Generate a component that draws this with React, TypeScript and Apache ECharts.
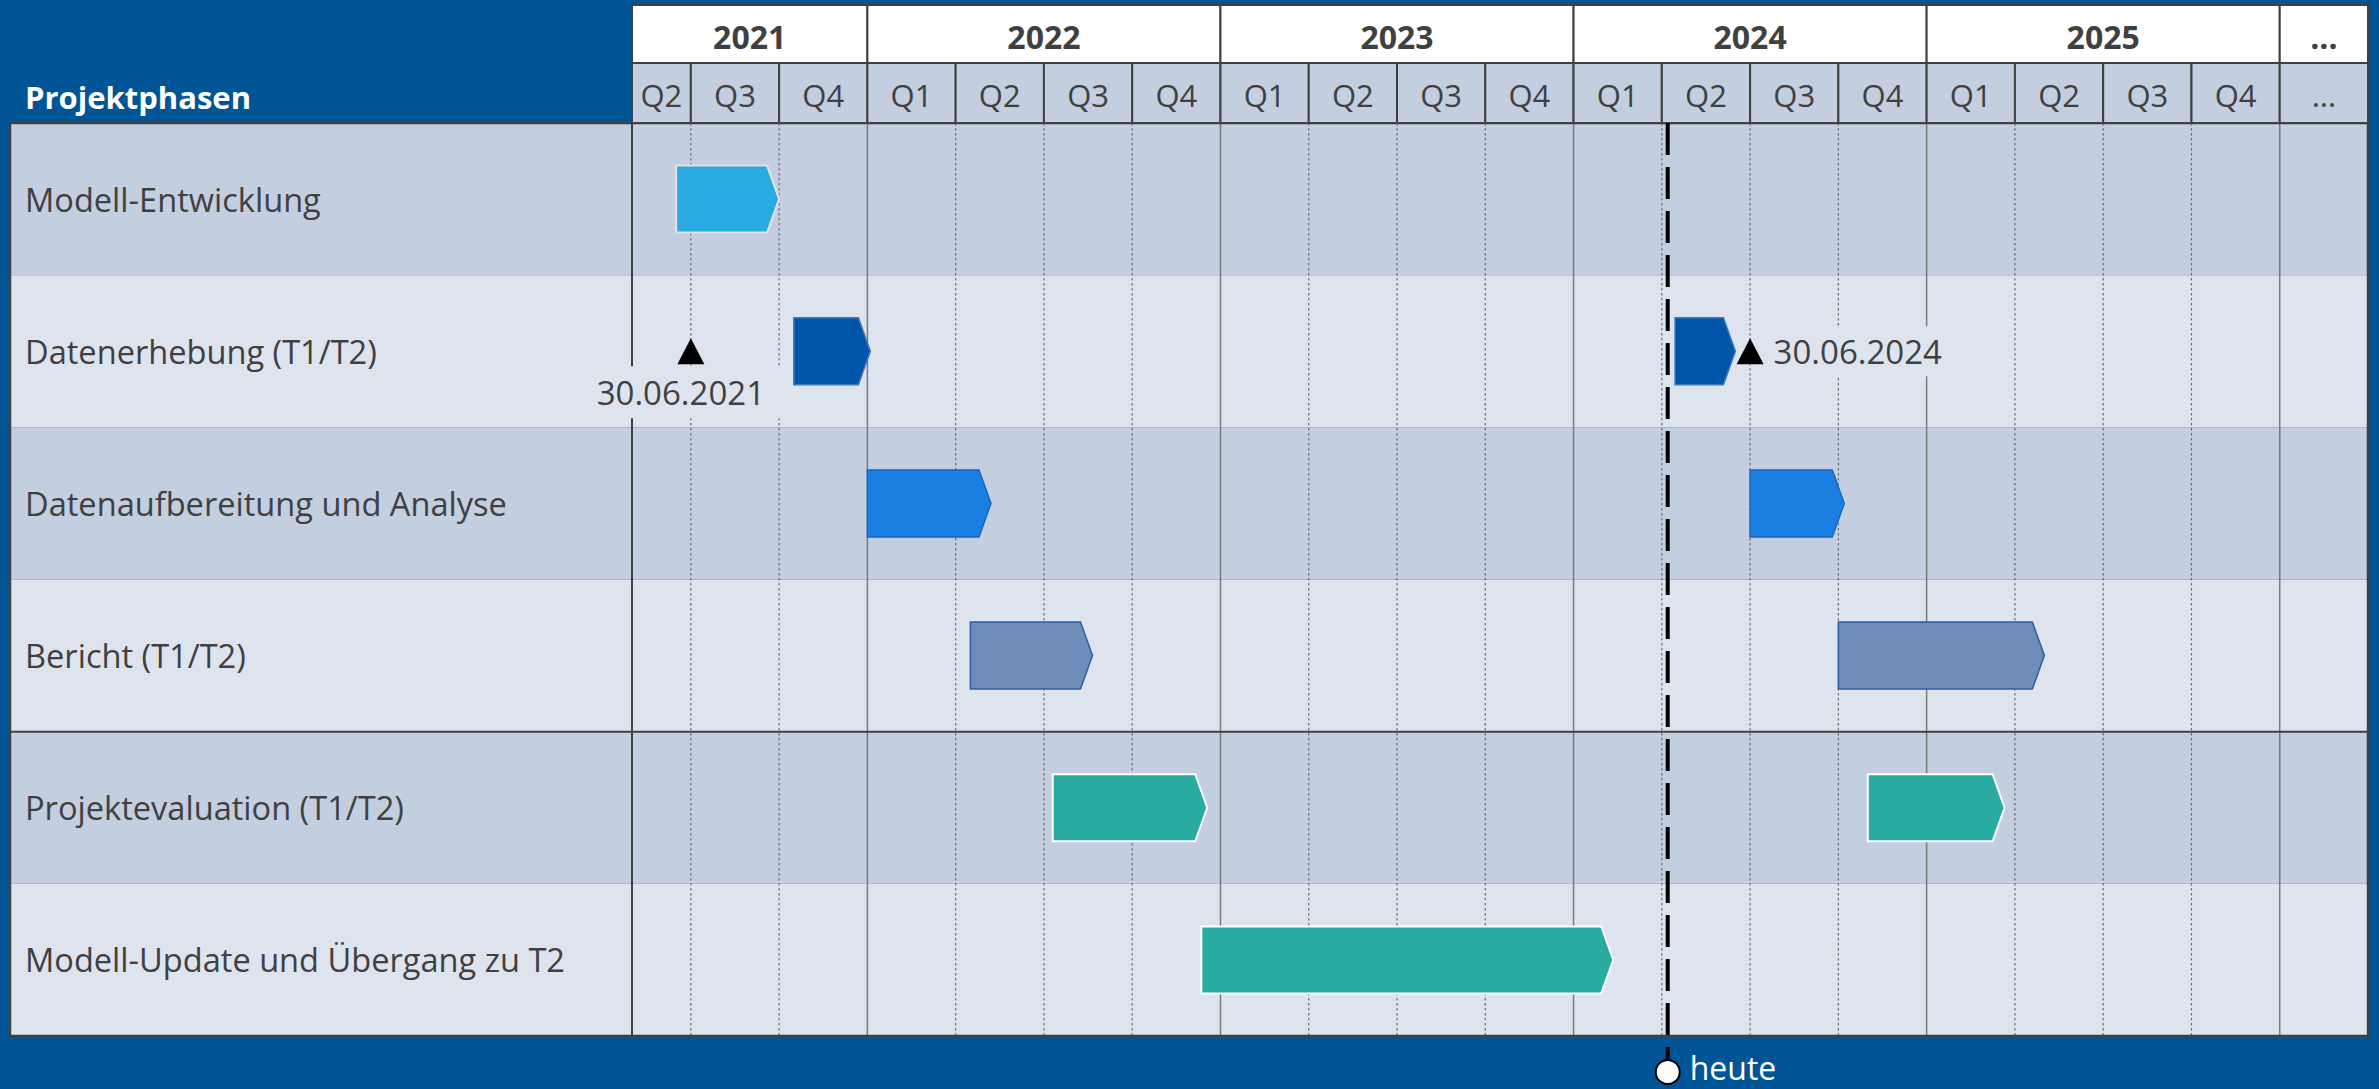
import React, { useEffect, useRef } from 'react';
import * as echarts from 'echarts';

// ---------- data (time unit: months since 1 Jan 2021) ----------
const phases = [
  'Modell-Entwicklung',
  'Datenerhebung (T1/T2)',
  'Datenaufbereitung und Analyse',
  'Bericht (T1/T2)',
  'Projektevaluation (T1/T2)',
  'Modell-Update und Übergang zu T2',
];

const axisStart = 4; // 1 May 2021
const axisEnd = 63;

const years = ['2021', '2022', '2023', '2024', '2025', '...'];
const yearStart = [4, 12, 24, 36, 48, 60];
const yearEnd = [12, 24, 36, 48, 60, 63];

const quarters = ['Q2', 'Q3', 'Q4', 'Q1', 'Q2', 'Q3', 'Q4', 'Q1', 'Q2', 'Q3', 'Q4', 'Q1', 'Q2', 'Q3', 'Q4', 'Q1', 'Q2', 'Q3', 'Q4', '...'];
const quarterStart = [4, 6, 9, 12, 15, 18, 21, 24, 27, 30, 33, 36, 39, 42, 45, 48, 51, 54, 57, 60];
const quarterEnd = [6, 9, 12, 15, 18, 21, 24, 27, 30, 33, 36, 39, 42, 45, 48, 51, 54, 57, 60, 63];

const quarterLines = [6, 9, 15, 18, 21, 27, 30, 33, 39, 42, 45, 51, 54, 57];
const yearLines = [12, 24, 36, 48, 60];

const taskPhase = [0, 1, 1, 2, 2, 3, 3, 4, 4, 5];
const taskStart = [5.5, 9.5, 39.45, 12.0, 42.0, 15.5, 45.0, 18.3, 46.0, 23.35];
const taskEnd = [9.0, 12.1, 41.5, 16.2, 45.2, 19.65, 52.0, 23.55, 50.65, 37.35];

const milestonePhase = [1, 1];
const milestoneTime = [6, 42];
const milestoneLabels = ['30.06.2021', '30.06.2024'];

const todayTime = 39.2;
const todayLabel = 'heute';
const headerTitle = 'Projektphasen';

// ---------- styles ----------
const BG = '#005597';
const ROW_DARK = '#C3CEE0';
const ROW_LIGHT = '#DEE4EE';
const LINE = '#404040';
const TEXT = '#404040';
const FONT = "'Open Sans', sans-serif";
const LABEL_COL = 622;
const TIP = 12;
const phaseFill = ['#29ABE2', '#0055A8', '#1B7FE2', '#6E8DBA', '#2AABA2', '#2AABA2'];
const phaseStroke = ['#E3E3E3', '#3C76BC', '#1467C0', '#2D5EA6', '#FFFFFF', '#FFFFFF'];
const phaseStrokeWidth = [2, 1.5, 1.5, 1.5, 2, 2];
const milestoneLabelPos = ['bottom', 'right'];

function buildOption() {
  const rowData = phases.map((_, i) => [axisStart, i]);
  const gridData = [
    ...quarterLines.map((v) => [v, 0, 0]),
    ...yearLines.map((v) => [v, 0, 1]),
    [axisStart, 0, 2],
  ];
  const headerData = [
    ...years.map((_, i) => [yearStart[i], yearEnd[i], 0, 0, i]),
    ...quarters.map((_, i) => [quarterStart[i], quarterEnd[i], 0, 1, i]),
  ];
  const taskData = taskPhase.map((p, i) => [taskStart[i], taskEnd[i], p]);

  return {
    animation: false,
    backgroundColor: BG,
    grid: { left: 632, right: 11, top: 123, bottom: 53, outerBoundsMode: 'none', containLabel: false },
    xAxis: { type: 'value', min: axisStart, max: axisEnd, show: false },
    yAxis: {
      type: 'category',
      data: phases,
      inverse: true,
      z: 10,
      axisLine: { show: false },
      axisTick: { show: false },
      splitLine: { show: false },
      axisLabel: {
        interval: 0,
        align: 'left',
        margin: 607,
        color: TEXT,
        fontSize: 32.6,
        fontFamily: FONT,
      },
    },
    graphic: [
      {
        type: 'text',
        x: 25,
        y: 97,
        style: {
          text: headerTitle,
          fill: '#FFFFFF',
          font: `bold 31px ${FONT}`,
          verticalAlign: 'middle',
          textAlign: 'left',
        },
      },
    ],
    series: [
      {
        type: 'custom',
        name: 'rows',
        z: 1,
        clip: false,
        silent: true,
        encode: { x: 0, y: 1 },
        data: rowData,
        renderItem: (params: any, api: any) => {
          const i = api.value(1);
          const c = api.coord([axisStart, i]);
          const h = api.size([0, 1])[1];
          const cs = params.coordSys;
          return {
            type: 'rect',
            shape: { x: cs.x - LABEL_COL, y: c[1] - h / 2, width: cs.width + LABEL_COL, height: h },
            style: { fill: i % 2 === 0 ? ROW_DARK : ROW_LIGHT },
          };
        },
      },
      {
        type: 'custom',
        name: 'gridlines',
        z: 2,
        clip: false,
        silent: true,
        encode: { x: 0, y: 1 },
        data: gridData,
        renderItem: (params: any, api: any) => {
          const x = api.coord([api.value(0), 0])[0];
          const kind = api.value(2);
          const cs = params.coordSys;
          const style =
            kind === 0
              ? { stroke: '#6E6E6E', lineWidth: 1.2, lineDash: [2.5, 2.5] }
              : kind === 1
              ? { stroke: '#7A7A7A', lineWidth: 1.5 }
              : { stroke: LINE, lineWidth: 2 };
          return {
            type: 'line',
            shape: { x1: x, y1: cs.y, x2: x, y2: cs.y + cs.height },
            style,
          };
        },
      },
      {
        type: 'scatter',
        name: 'milestones',
        z: 3,
        symbol: 'triangle',
        symbolSize: [27, 26],
        itemStyle: { color: '#000000', opacity: 1 },
        data: milestoneTime.map((t, i) => ({
          value: [t, milestonePhase[i]],
          label:
            milestoneLabelPos[i] === 'bottom'
              ? { position: 'bottom', distance: 2, offset: [-10, 0], padding: [9, 20, 9, 20] }
              : { position: 'right', distance: 0, padding: [8, 6, 8, 10] },
        })),
        label: {
          show: true,
          formatter: (p: any) => milestoneLabels[p.dataIndex],
          color: TEXT,
          opacity: 1,
          fontSize: 33,
          fontFamily: FONT,
          lineHeight: 34,
          backgroundColor: ROW_LIGHT,
        },
      },
      {
        type: 'custom',
        name: 'tasks',
        z: 4,
        clip: false,
        encode: { x: [0, 1], y: 2 },
        data: taskData,
        renderItem: (params: any, api: any) => {
          const p = api.value(2);
          const s = api.coord([api.value(0), p]);
          const e = api.coord([api.value(1), p]);
          const h = api.size([0, 1])[1] * 0.44;
          const top = s[1] - h / 2;
          const bot = s[1] + h / 2;
          return {
            type: 'polygon',
            shape: {
              points: [
                [s[0], top],
                [e[0] - TIP, top],
                [e[0], s[1]],
                [e[0] - TIP, bot],
                [s[0], bot],
              ],
            },
            style: { fill: phaseFill[p], stroke: phaseStroke[p], lineWidth: phaseStrokeWidth[p] },
          };
        },
      },
      {
        type: 'custom',
        name: 'frame',
        z: 6,
        clip: false,
        silent: true,
        encode: { x: 0, y: 1 },
        data: [[axisStart, 3]],
        renderItem: (params: any, api: any) => {
          const cs = params.coordSys;
          const c = api.coord([axisStart, api.value(1)]);
          const h = api.size([0, 1])[1];
          const sepY = c[1] + h / 2;
          return {
            type: 'group',
            children: [
              {
                type: 'rect',
                shape: { x: cs.x - LABEL_COL, y: cs.y, width: cs.width + LABEL_COL, height: cs.height },
                style: { fill: 'none', stroke: LINE, lineWidth: 2.5 },
              },
              {
                type: 'line',
                shape: { x1: cs.x - LABEL_COL, y1: sepY, x2: cs.x + cs.width, y2: sepY },
                style: { stroke: LINE, lineWidth: 2 },
              },
            ],
          };
        },
      },
      {
        type: 'custom',
        name: 'header',
        z: 6,
        clip: false,
        silent: true,
        encode: { x: [0, 1], y: 2 },
        data: headerData,
        renderItem: (params: any, api: any) => {
          const cs = params.coordSys;
          const x0 = api.coord([api.value(0), 0])[0];
          const x1 = api.coord([api.value(1), 0])[0];
          const level = api.value(3);
          const idx = api.value(4);
          const y0 = level === 0 ? cs.y - 118 : cs.y - 60;
          const hh = level === 0 ? 58 : 60;
          const label = level === 0 ? years[idx] : quarters[idx];
          return {
            type: 'group',
            children: [
              {
                type: 'rect',
                shape: { x: x0, y: y0, width: x1 - x0, height: hh },
                style: { fill: level === 0 ? '#FFFFFF' : ROW_DARK, stroke: LINE, lineWidth: 2 },
              },
              {
                type: 'text',
                x: (x0 + x1) / 2,
                y: y0 + hh / 2 + 2,
                style: {
                  text: label,
                  fill: TEXT,
                  font: level === 0 ? `bold 32px ${FONT}` : `31px ${FONT}`,
                  textAlign: 'center',
                  verticalAlign: 'middle',
                },
              },
            ],
          };
        },
      },
      {
        type: 'custom',
        name: 'today',
        z: 7,
        clip: false,
        silent: true,
        encode: { x: 0, y: 1 },
        data: [[todayTime, 0]],
        renderItem: (params: any, api: any) => {
          const cs = params.coordSys;
          const x = api.coord([api.value(0), 0])[0];
          const cy = cs.y + cs.height + 36;
          return {
            type: 'group',
            children: [
              {
                type: 'line',
                shape: { x1: x, y1: cs.y, x2: x, y2: cy - 12 },
                style: { stroke: '#000000', lineWidth: 4, lineDash: [32, 12] },
              },
              {
                type: 'circle',
                shape: { cx: x, cy, r: 12 },
                style: { fill: '#FFFFFF', stroke: '#000000', lineWidth: 2 },
              },
              {
                type: 'text',
                x: x + 22,
                y: cy - 5,
                style: {
                  text: todayLabel,
                  fill: '#FFFFFF',
                  font: `32px ${FONT}`,
                  textAlign: 'left',
                  verticalAlign: 'middle',
                },
              },
            ],
          };
        },
      },
    ],
  };
}

export default function App() {
  const ref = useRef<HTMLDivElement>(null);
  useEffect(() => {
    document.body.style.margin = '0';
    const chart = echarts.init(ref.current as HTMLDivElement, undefined, { renderer: 'svg' });
    chart.setOption(buildOption() as any);
    return () => chart.dispose();
  }, []);
  return <div ref={ref} style={{ width: 2379, height: 1089 }} />;
}
